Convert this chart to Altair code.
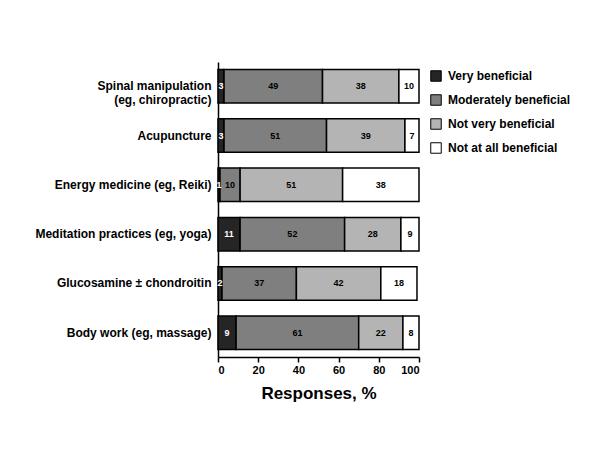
import altair as alt
import pandas as pd

therapies = [
    "Spinal manipulation (eg, chiropractic)",
    "Acupuncture",
    "Energy medicine (eg, Reiki)",
    "Meditation practices (eg, yoga)",
    "Glucosamine ± chondroitin",
    "Body work (eg, massage)",
]
categories = ["Very beneficial", "Moderately beneficial", "Not very beneficial", "Not at all beneficial"]
very = [3, 3, 1, 11, 2, 9]
moderately = [49, 51, 10, 52, 37, 61]
not_very = [38, 39, 51, 28, 42, 22]
not_at_all = [10, 7, 38, 9, 18, 8]
colors = ["#252525", "#7f7f7f", "#b4b4b4", "#ffffff"]
text_colors = ["white", "black", "black", "black"]

rows = []
for i, t in enumerate(therapies):
    for j, (c, vals) in enumerate(zip(categories, [very, moderately, not_very, not_at_all])):
        rows.append({"therapy": t, "category": c, "value": vals[i], "order": j, "tcol": text_colors[j]})
df = pd.DataFrame(rows)

FONT = "Liberation Sans"

base = alt.Chart(df).transform_stack(
    stack="value", groupby=["therapy"], as_=["x0", "x1"], sort=[alt.SortField("order")]
).transform_calculate(mid="(datum.x0 + datum.x1) / 2")

y_enc = alt.Y(
    "therapy:N",
    sort=therapies,
    title=None,
    scale=alt.Scale(paddingInner=0.32, paddingOuter=0.15),
    axis=alt.Axis(
        ticks=False,
        domainColor="black",
        domainWidth=1.5,
        labelFont=FONT,
        labelFontWeight="bold",
        labelFontSize=12,
        labelColor="black",
        labelPadding=7,
        labelLimit=300,
        labelExpr="datum.value == 'Spinal manipulation (eg, chiropractic)' ? ['Spinal manipulation', '(eg, chiropractic)'] : datum.value",
    ),
)

bars = base.mark_bar(stroke="black", strokeWidth=1.5).encode(
    y=y_enc,
    x=alt.X(
        "x0:Q",
        scale=alt.Scale(domain=[0, 100], nice=False),
        title="Responses, %",
        axis=alt.Axis(
            values=[0, 20, 40, 60, 80, 100],
            grid=False,
            domainColor="black",
            domainWidth=1.5,
            tickColor="black",
            tickWidth=1.5,
            tickSize=5,
            labelFont=FONT,
            labelFontWeight="bold",
            labelFontSize=11,
            labelColor="black",
            titleFont=FONT,
            titleFontWeight="bold",
            titleFontSize=17,
            titleColor="black",
            titlePadding=10,
        ),
    ),
    x2="x1:Q",
    color=alt.Color(
        "category:N",
        scale=alt.Scale(domain=categories, range=colors),
        title=None,
        legend=alt.Legend(
            orient="none",
            legendX=212,
            legendY=8,
            symbolType="square",
            symbolSize=110,
            symbolStrokeColor="black",
            symbolStrokeWidth=1,
            symbolOpacity=1,
            labelFont=FONT,
            labelFontWeight="bold",
            labelFontSize=12,
            labelColor="black",
            rowPadding=8,
            labelOffset=6,
        ),
    ),
)

labels = base.mark_text(font=FONT, fontWeight="bold", fontSize=9).encode(
    y=alt.Y("therapy:N", sort=therapies),
    x=alt.X("mid:Q"),
    text="value:Q",
    color=alt.Color("tcol:N", scale=None),
)

chart = (bars + labels).properties(
    width=201,
    height=295,
    padding={"left": 26, "top": 54, "right": 5, "bottom": 5},
).configure_view(stroke=None)

chart.save("out.html", embed_options={"renderer": "svg", "actions": False})
